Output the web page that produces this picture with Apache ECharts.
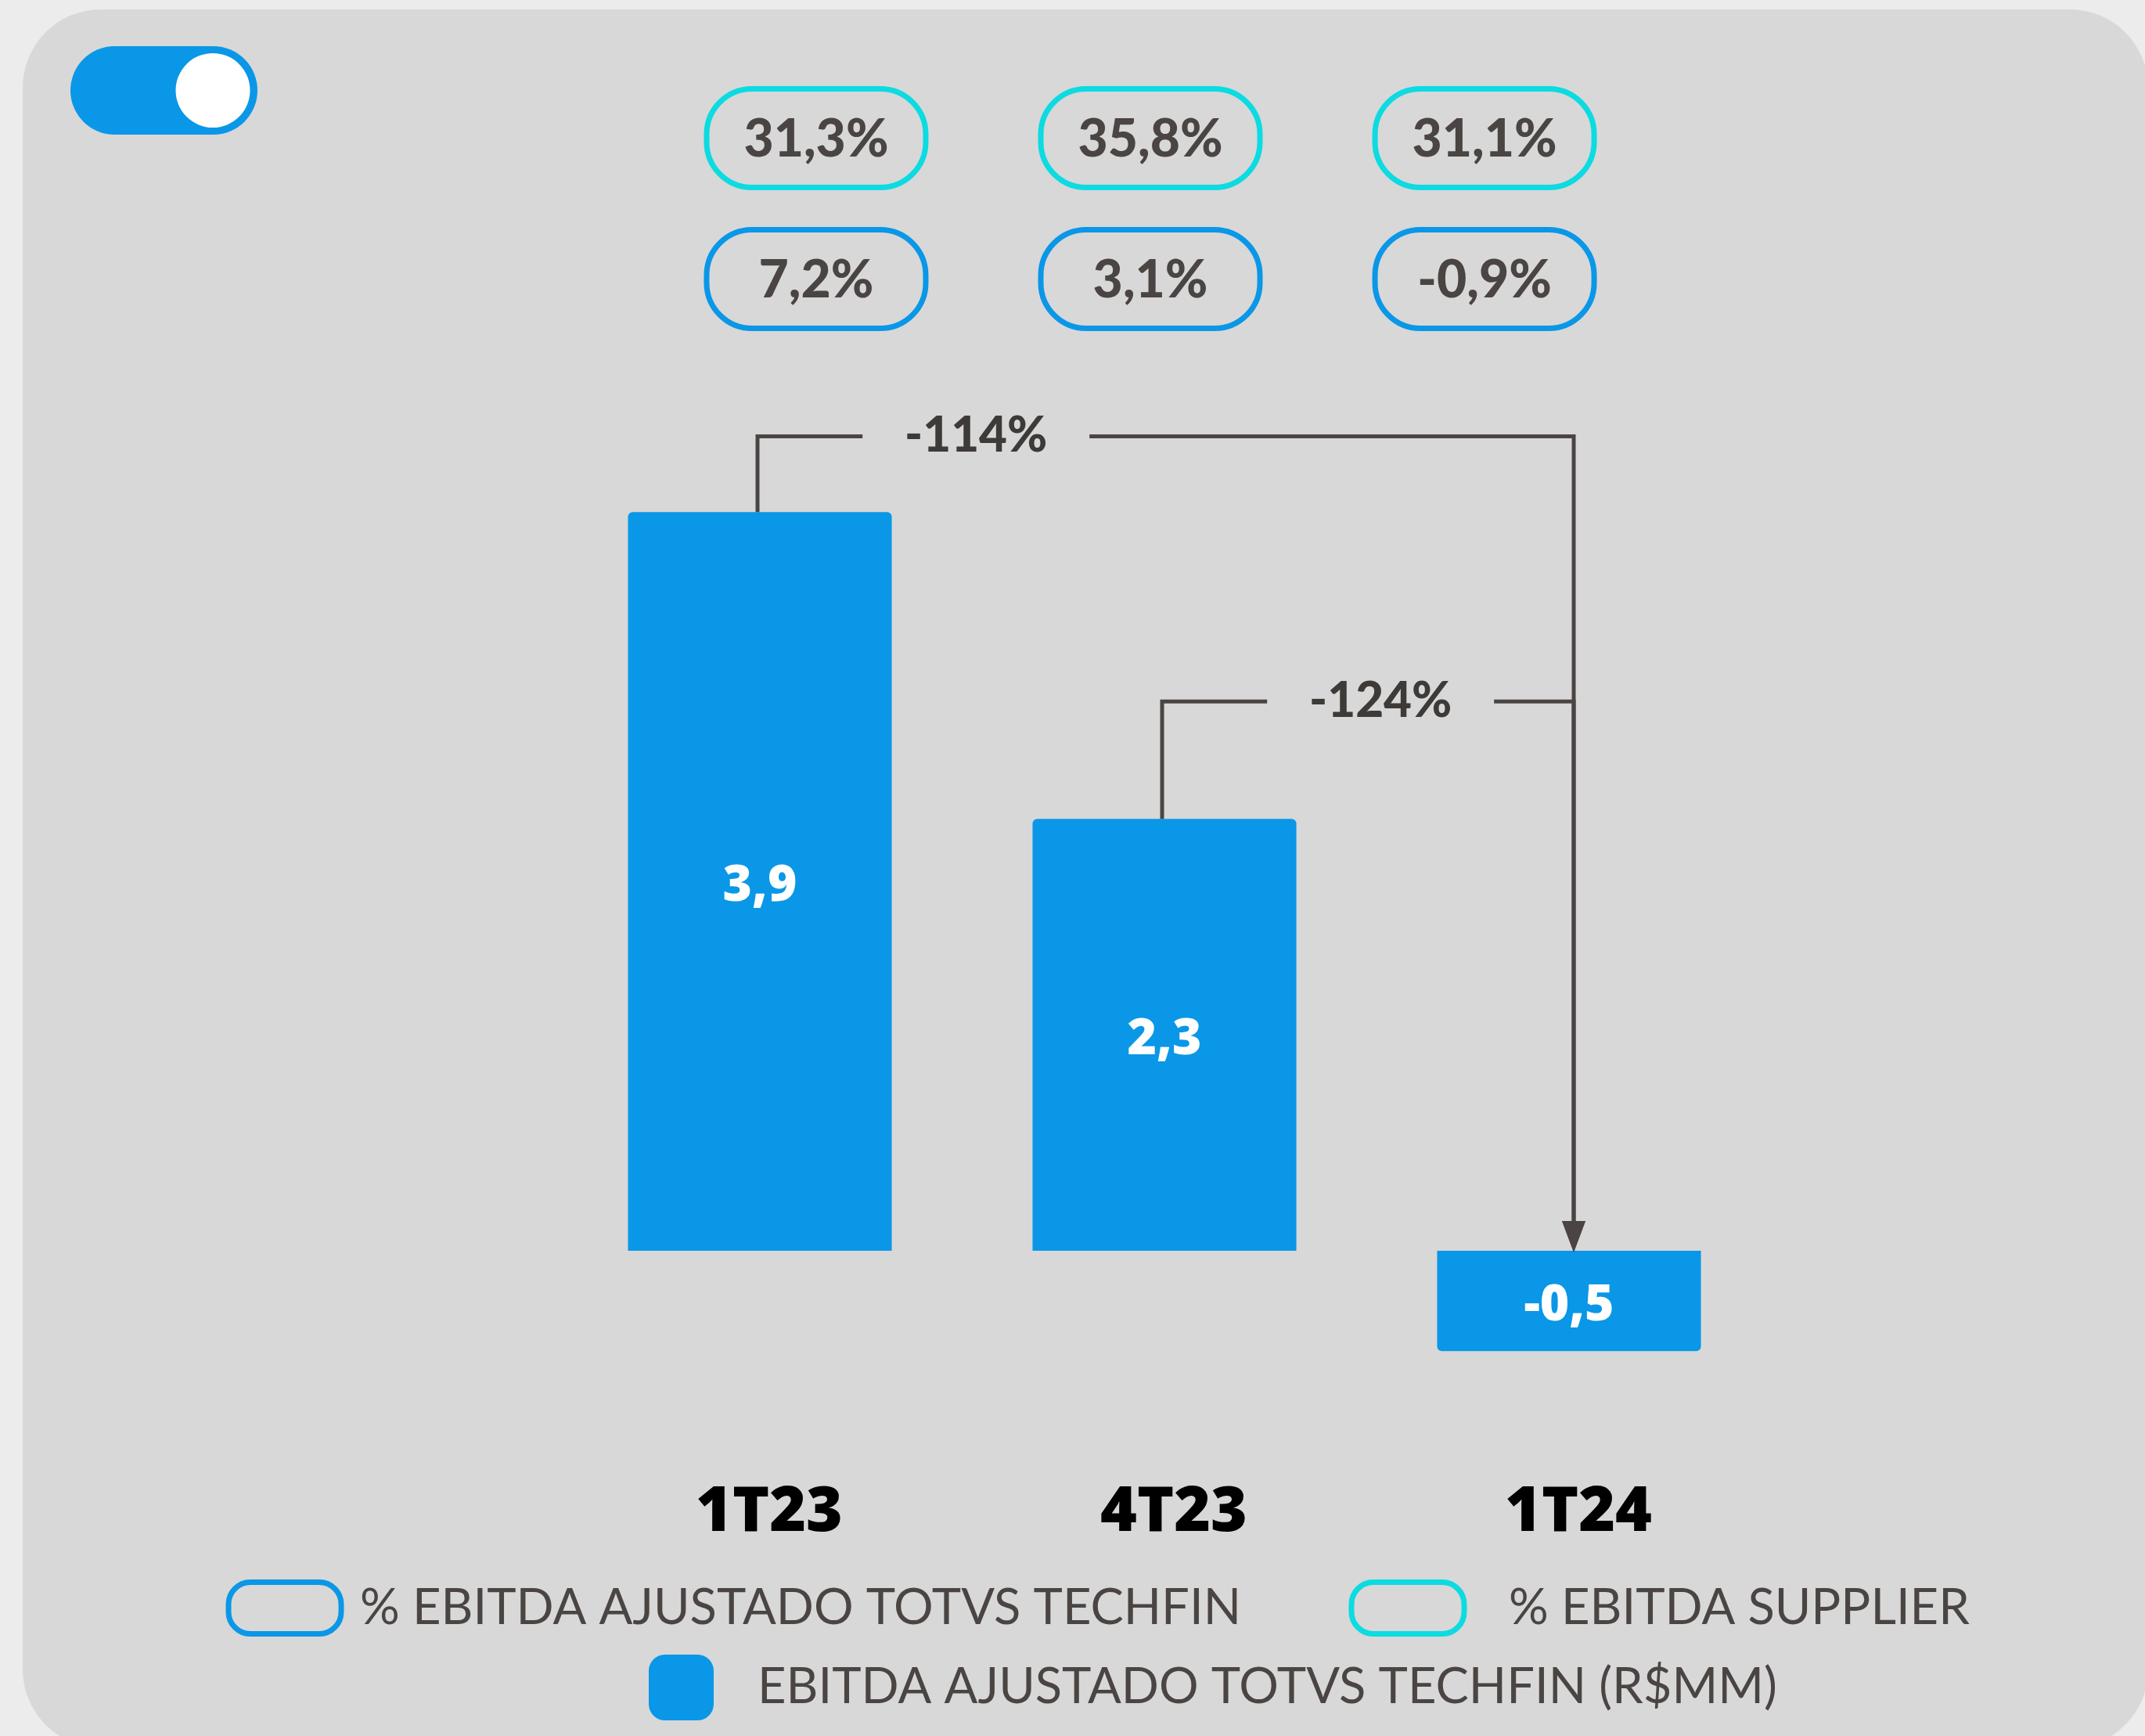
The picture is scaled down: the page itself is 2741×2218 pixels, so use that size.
<!DOCTYPE html>
<html><head><meta charset="utf-8">
<script src="https://cdn.jsdelivr.net/npm/echarts@6/dist/echarts.min.js"></script>
<style>html,body{margin:0;padding:0;background:#ececec}#c{width:2741px;height:2218px}</style>
</head><body><div id="c"></div>
<script>
// ---- data ----
const categories = ['1T23', '4T23', '1T24'];
const ebitdaValues = [3.9, 2.28, -0.53];         // EBITDA AJUSTADO TOTVS TECHFIN (R$MM)
const techfinMargin = [7.2, 3.1, -0.9];          // % EBITDA AJUSTADO TOTVS TECHFIN
const supplierMargin = [31.3, 35.8, 31.1];       // % EBITDA SUPPLIER
const variationLabels = ['-114%', '-124%'];
const variationFrom = [0, 1];
const variationTo = [2, 2];
const variationLevel = [4.3, 2.9];
const nameBar = 'EBITDA AJUSTADO TOTVS TECHFIN (R$MM)';
const nameTechfin = '% EBITDA AJUSTADO TOTVS TECHFIN';
const nameSupplier = '% EBITDA SUPPLIER';

const BLUE = '#0a97e7', CYAN = '#0cdbe1', INK = '#4a4542';
const fmt = v => v.toFixed(1).replace('.', ',');

function pillRenderer(rowOffset, color) {
  return function (params, api) {
    const cs = params.coordSys;
    const band = api.size([1, 0])[0];
    const i = api.value(0);
    const cx = cs.x + cs.width / 2 - 18 + (i - 1) * band * 0.826;
    const cy = cs.y - rowOffset;
    return {
      type: 'group',
      children: [
        { type: 'rect', shape: { x: cx - 140, y: cy - 63, width: 280, height: 126, r: 58 },
          style: { fill: 'none', stroke: color, lineWidth: 7 } },
        { type: 'text', style: { text: fmt(api.value(1)) + '%', x: cx, y: cy + 2, align: 'center', verticalAlign: 'middle',
          font: '900 66px Lato', fill: INK } }
      ]
    };
  };
}

function bracketRenderer(params, api) {
  const from = api.value(0), to = api.value(1), level = api.value(2), idx = api.value(3);
  const band = api.size([1, 0])[0];
  const xFrom = api.coord([from, 0])[0] - 3;
  const xTo = api.coord([to, 0])[0] + 6;
  const yFrom = api.coord([from, Math.max(ebitdaValues[from], 0)])[1];
  const yTo = api.coord([to, Math.max(ebitdaValues[to], 0)])[1];
  const yL = api.coord([from, level])[1];
  const lx = xFrom + band * 0.54;
  const half = 145;
  const ls = { stroke: INK, lineWidth: 5, fill: null };
  return {
    type: 'group',
    children: [
      { type: 'polyline', shape: { points: [[xFrom, yFrom], [xFrom, yL], [lx - half, yL]] }, style: ls },
      { type: 'polyline', shape: { points: [[lx + half, yL], [xTo, yL], [xTo, yTo - 34]] }, style: ls },
      { type: 'polygon', shape: { points: [[xTo - 15, yTo - 38], [xTo + 15, yTo - 38], [xTo, yTo + 2]] }, style: { fill: INK } },
      { type: 'text', style: { text: variationLabels[idx], x: lx, y: yL, align: 'center', verticalAlign: 'middle',
        font: '900 62px Lato', fill: '#3d3a38' } }
    ]
  };
}

const pillPath = 'path://M28,0H116A28,28 0 0 1 144,28V38A28,28 0 0 1 116,66H28A28,28 0 0 1 0,38V28A28,28 0 0 1 28,0Z';

const chart = echarts.init(document.getElementById('c'));
chart.setOption({
  backgroundColor: '#ececec',
  animation: false,
  graphic: [
    { type: 'rect', z: -10, shape: { x: 29, y: 12, width: 2716, height: 2221, r: 100 }, style: { fill: '#d8d8d8' } },
    { type: 'rect', z: 10, shape: { x: 90, y: 59, width: 239, height: 113, r: 56.5 }, style: { fill: BLUE } },
    { type: 'circle', z: 11, shape: { cx: 272, cy: 115.5, r: 47.5 }, style: { fill: '#ffffff' } }
  ],
  grid: { left: 712.5, width: 1551, top: 630, height: 1210 },
  xAxis: {
    type: 'category', data: categories,
    axisLine: { show: false, onZero: false }, axisTick: { show: false },
    axisLabel: { margin: 53, color: '#000', fontFamily: 'Open Sans', fontWeight: 800, fontSize: 80, padding: [0, 0, 0, 24] }
  },
  yAxis: { type: 'value', min: -1, max: 4, interval: 1, show: false, splitLine: { show: false } },
  legend: [
    { left: 288.5, top: 2018, padding: 0, selectedMode: false, itemWidth: 144, itemHeight: 66,
      data: [{ name: nameTechfin, icon: pillPath, itemStyle: { color: 'rgba(0,0,0,0)', borderColor: BLUE, borderWidth: 7 } }],
      textStyle: { fontFamily: 'Lato', fontSize: 63.3, color: INK, padding: [0, 0, 0, 19] } },
    { left: 1723.5, top: 2018, padding: 0, selectedMode: false, itemWidth: 144, itemHeight: 66,
      data: [{ name: nameSupplier, icon: pillPath, itemStyle: { color: 'rgba(0,0,0,0)', borderColor: CYAN, borderWidth: 7 } }],
      textStyle: { fontFamily: 'Lato', fontSize: 63.3, color: INK, padding: [0, 0, 0, 52] } },
    { left: 829, top: 2114, padding: 0, selectedMode: false, itemWidth: 83, itemHeight: 84,
      data: [{ name: nameBar, icon: 'roundRect', itemStyle: { color: BLUE } }],
      textStyle: { fontFamily: 'Lato', fontSize: 63.3, color: INK, padding: [0, 0, 0, 51] } }
  ],
  series: [
    {
      name: nameBar, type: 'bar', barCategoryGap: '34.8%',
      data: ebitdaValues.map(v => ({ value: v, itemStyle: { borderRadius: v >= 0 ? [6, 6, 0, 0] : [0, 0, 6, 6] } })),
      itemStyle: { color: BLUE },
      label: { show: true, position: 'inside', offset: [0, 7], formatter: p => fmt(p.value), color: '#fff',
        fontFamily: 'Open Sans', fontWeight: 800, fontSize: 64 }
    },
    {
      name: nameTechfin, type: 'custom', itemStyle: { color: BLUE },
      data: techfinMargin.map((v, i) => [i, v]), encode: { x: 0, y: 1 },
      renderItem: pillRenderer(273.5, BLUE), z: 5
    },
    {
      name: nameSupplier, type: 'custom', itemStyle: { color: CYAN },
      data: supplierMargin.map((v, i) => [i, v]), encode: { x: 0, y: 1 },
      renderItem: pillRenderer(453.5, CYAN), z: 5
    },
    {
      name: 'variação', type: 'custom',
      data: variationFrom.map((f, i) => [f, variationTo[i], variationLevel[i], i]), encode: { x: 0, y: 2 },
      renderItem: bracketRenderer, z: 6
    }
  ]
});
</script></body></html>
